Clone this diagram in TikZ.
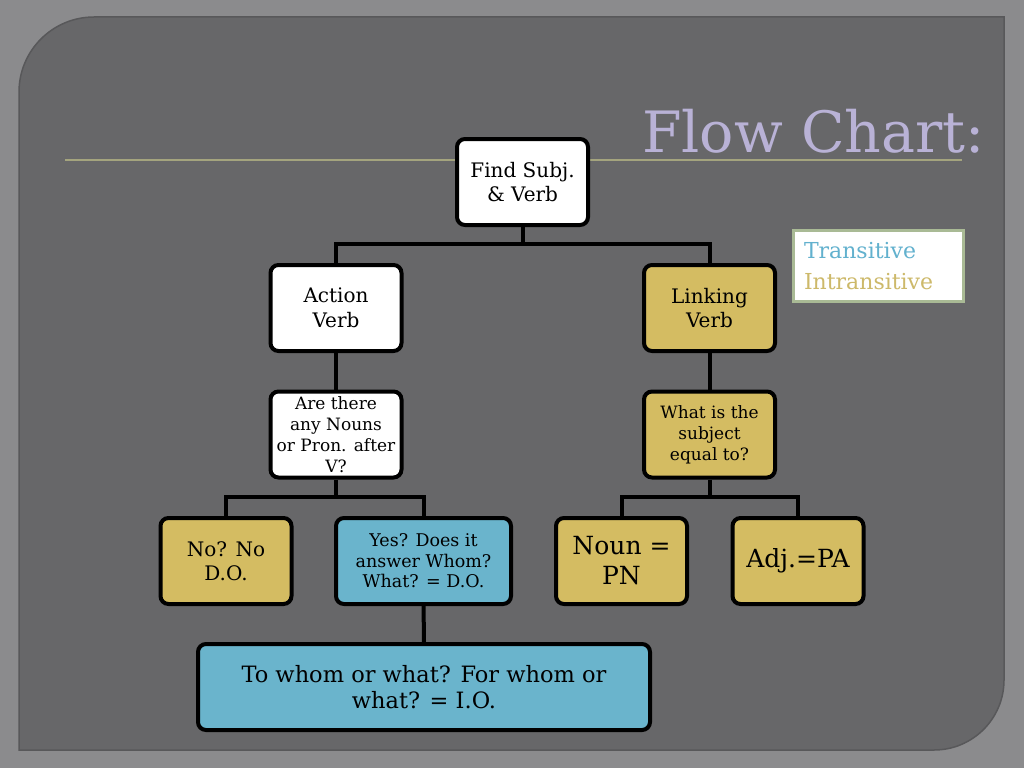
\documentclass[tikz,border=0pt]{standalone}
\usepackage{fontspec}
\setmainfont{DejaVu Serif}
\usetikzlibrary{positioning}
\definecolor{slideBack}{HTML}{8B8B8D}
\definecolor{slidePanel}{HTML}{676769}
\definecolor{slideEdge}{HTML}{58585A}
\definecolor{fcGold}{HTML}{D4BC62}
\definecolor{fcBlue}{HTML}{6AB4CC}
\definecolor{fcTitle}{HTML}{B9B2D6}
\definecolor{fcRule}{HTML}{A4A47E}
\definecolor{fcSage}{HTML}{A9BA95}
\definecolor{fcTrans}{HTML}{62B1CE}
\definecolor{fcIntrans}{HTML}{CDB96A}
\tikzset{
  % one unit is one pixel of the slide, y running downwards
  every picture/.append style = {x=1pt, y=-1pt},
  box/.style      = {draw=black, line width=4pt, rounded corners=8pt, fill=white,
                     align=center, inner sep=0pt, minimum width=131pt,
                     minimum height=86pt, font=\fontsize{20}{24.5}\selectfont},
  goldbox/.style  = {box, fill=fcGold},
  bluebox/.style  = {box, fill=fcBlue},
  smalltxt/.style = {font=\fontsize{17}{21}\selectfont},
  bigtxt/.style   = {font=\fontsize{25}{30}\selectfont},
  link/.style     = {line width=4pt, black},
  legend/.style   = {draw=fcSage, line width=3pt, fill=white, align=left,
                     text width=149pt, inner sep=10.5pt, minimum height=71pt,
                     font=\fontsize{22}{31}\selectfont},
  titletxt/.style = {anchor=base east, inner sep=0pt, font=\fontsize{57}{60}\selectfont},
}
\begin{document}
\begin{tikzpicture}
  \useasboundingbox (0,0) rectangle (1024,768);
  % slide background and panel
  \fill[slideBack] (0,0) rectangle (1024,768);
  \filldraw[fill=slidePanel, draw=slideEdge, line width=1.5pt]
    (19,750) [rounded corners=75pt] -- (19,17) [sharp corners] -- (1004,17)
    [rounded corners=70pt] -- (1004,750) [sharp corners] -- cycle;
  % title and rule
  \draw[fcRule, line width=2pt] (65,160) -- (962,160);
  \node[titletxt, fcTitle] (title) at (985,152) {Flow Chart:};
  % legend
  \node[legend] (key) at (878.5,266)
    {\textcolor{fcTrans}{Transitive}\\\textcolor{fcIntrans}{Intransitive}};
  % boxes
  \node[box] (find) at (522.5,182) {Find Subj.\\\& Verb};
  \node[box] (action) at (336,308) {Action\\Verb};
  \node[goldbox] (linking) at (709.5,308) {Linking\\Verb};
  \node[box, smalltxt] (nouns) at (336,434.5) {Are there\\any Nouns\\or Pron. after\\V?};
  \node[goldbox, smalltxt] (equal) at (709.5,434.5) {What is the\\subject\\equal to?};
  \node[goldbox] (nodo) at (226,561) {No? No\\D.O.};
  \node[bluebox, minimum width=175pt, font=\fontsize{17.5}{20.5}\selectfont] (yesdo)
    at (423.5,561) {Yes? Does it\\answer Whom?\\What? = D.O.};
  \node[goldbox, bigtxt] (noun) at (621.5,561) {Noun =\\PN};
  \node[goldbox, bigtxt] (adj) at (798,561) {Adj.=PA};
  \node[bluebox, minimum width=452pt, font=\fontsize{22.5}{26}\selectfont] (io) at (424,687)
    {To whom or what? For whom or\\what? = I.O.};
  % connectors
  \draw[link] (find.south) -- ++(0,17) coordinate (forkA);
  \draw[link] (action.north) |- (forkA) -| (linking.north);
  \draw[link] (action) -- (nouns);
  \draw[link] (linking) -- (equal);
  \draw[link] (nouns.south) -- ++(0,17) coordinate (forkB);
  \draw[link] (nodo.north) |- (forkB) -| (yesdo.north);
  \draw[link] (equal.south) -- ++(0,17) coordinate (forkC);
  \draw[link] (noun.north) |- (forkC) -| (adj.north);
  \draw[link] (yesdo) -- (io);
\end{tikzpicture}
\end{document}
